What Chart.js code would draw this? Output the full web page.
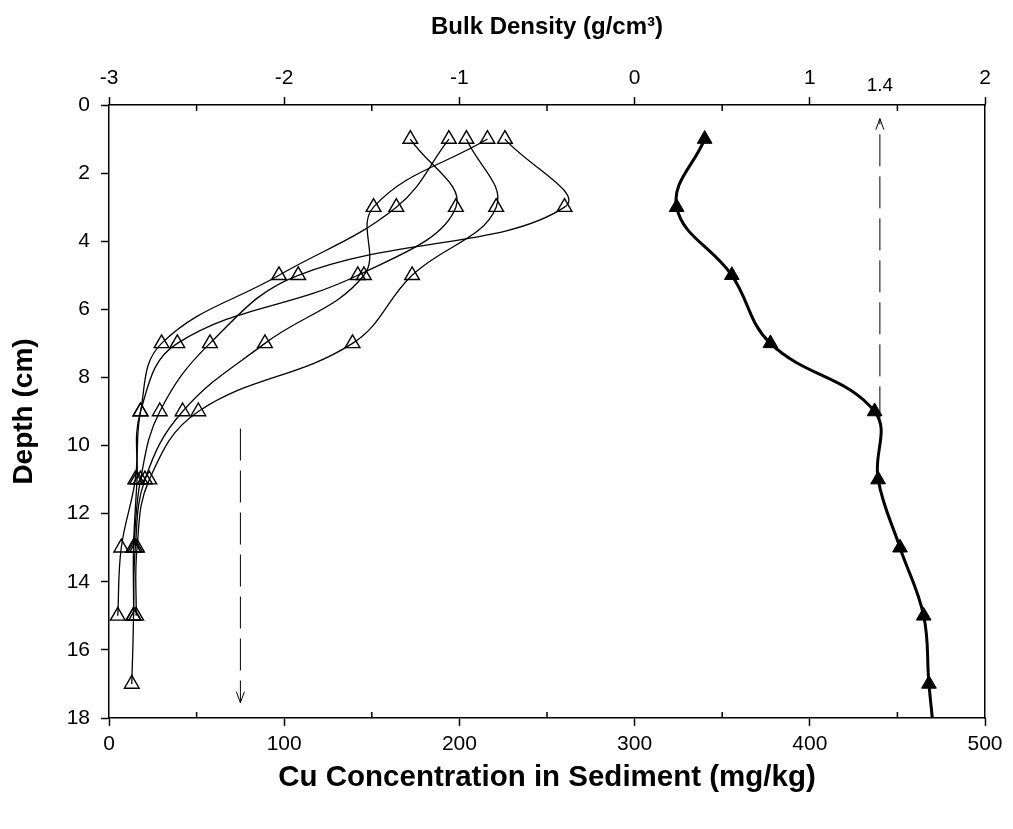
<!DOCTYPE html>
<html>
<head>
<meta charset="utf-8">
<script src="https://cdn.jsdelivr.net/npm/chart.js@4.4.0/dist/chart.umd.min.js"></script>
<style>
  html, body { margin: 0; padding: 0; background: #fff; }
  #wrap { width: 1013px; height: 829px; }
</style>
</head>
<body>
<div id="wrap"><canvas id="depthChart"></canvas></div>
<script>
// depth of each sample (cm)
const depths = [1, 3, 5, 7, 9, 11, 13, 15, 17];

// Cu concentration profiles (mg/kg), one per core
const cuCore1 = [172, 198, 142, 39, 18, 16, 14, 14, 13];
const cuCore2 = [194, 164, 97, 30, 18, 15, 7, 5];
const cuCore3 = [204, 221, 173, 139, 51, 23, 16, 15.5];
const cuCore4 = [216, 151, 145.5, 89, 42, 20.5, 15, 14];
const cuCore5 = [226, 260, 108, 57.6, 29, 18, 14];

// bulk density (g/cm3), read on the top axis
const bulkDepths = [1, 3, 5, 7, 9, 11, 13, 15, 17, 19];
const bulkDensity = [0.40, 0.24, 0.555, 0.775, 1.37, 1.39, 1.515, 1.65, 1.68, 1.72];

// dashed arrows: [value, fromDepth, toDepth]
const bulkArrow = [1.4, 9.2, 0.4];
const cuArrow = [75, 9.5, 17.55];

// axis ticks
const cuTicks = [0, 100, 200, 300, 400, 500];
const bulkTicks = [-3, -2, -1, 0, 1, 2];
const depthTicks = [0, 2, 4, 6, 8, 10, 12, 14, 16, 18];

const FONT = "'Liberation Sans', Arial, sans-serif";

function toPoints(values, ys) {
  return values.map((v, i) => ({ x: v, y: ys[i] }));
}

function cuSet(values) {
  return {
    data: toPoints(values, depths),
    xAxisID: "x",
    borderColor: "#000",
    borderWidth: 1.3,
    tension: 0.4,
    pointStyle: "triangle",
    pointRadius: 8.5,
    pointBorderWidth: 1.4,
    pointBorderColor: "#000",
    pointBackgroundColor: "rgba(255,255,255,0)",
  };
}

function arrowSet(arrow, axis) {
  return {
    data: [
      { x: arrow[0], y: arrow[1] },
      { x: arrow[0], y: arrow[2] },
    ],
    xAxisID: axis,
    borderColor: "#000",
    borderWidth: 1,
    borderDash: [32, 10],
    pointRadius: 0,
    tension: 0,
    arrow: true,
  };
}

// arrow heads, the 1.4 label and the short inward minor ticks
const extras = {
  id: "extras",
  afterDatasetsDraw(chart) {
    const ctx = chart.ctx;
    ctx.save();
    ctx.strokeStyle = "#000";
    ctx.lineWidth = 1;
    chart.data.datasets.forEach((ds, i) => {
      if (!ds.arrow) return;
      const pts = chart.getDatasetMeta(i).data;
      const a = pts[0], b = pts[1];
      const dir = b.y > a.y ? 1 : -1;
      ctx.beginPath();
      ctx.moveTo(b.x - 4, b.y - dir * 11);
      ctx.lineTo(b.x, b.y);
      ctx.lineTo(b.x + 4, b.y - dir * 11);
      ctx.stroke();
    });
    ctx.restore();
  },
  afterDraw(chart) {
    const ctx = chart.ctx;
    const area = chart.chartArea;
    const x = chart.scales.x, x2 = chart.scales.x2;
    ctx.save();
    ctx.strokeStyle = "#000";
    ctx.lineWidth = 1.5;
    ctx.beginPath();
    for (let v = 50; v < 500; v += 100) {
      const px = x.getPixelForValue(v);
      ctx.moveTo(px, area.bottom);
      ctx.lineTo(px, area.bottom - 6);
    }
    for (let v = -2.5; v < 2; v += 1) {
      const px = x2.getPixelForValue(v);
      ctx.moveTo(px, area.top);
      ctx.lineTo(px, area.top + 6);
    }
    ctx.stroke();
    ctx.fillStyle = "#000";
    ctx.font = "19px " + FONT;
    ctx.textAlign = "center";
    ctx.textBaseline = "middle";
    ctx.fillText(String(bulkArrow[0]), x2.getPixelForValue(bulkArrow[0]), 86);
    ctx.restore();
  },
};

const tickFont = { family: FONT, size: 21 };

new Chart(document.getElementById("depthChart"), {
  type: "scatter",
  data: {
    datasets: [
      cuSet(cuCore1),
      cuSet(cuCore2),
      cuSet(cuCore3),
      cuSet(cuCore4),
      cuSet(cuCore5),
      {
        data: toPoints(bulkDensity, bulkDepths),
        xAxisID: "x2",
        borderColor: "#000",
        borderWidth: 3,
        tension: 0.4,
        pointStyle: "triangle",
        pointRadius: 8.5,
        pointBorderWidth: 1,
        pointBorderColor: "#000",
        pointBackgroundColor: "#000",
      },
      arrowSet(bulkArrow, "x2"),
      arrowSet(cuArrow, "x"),
    ],
  },
  options: {
    responsive: true,
    maintainAspectRatio: false,
    animation: false,
    showLine: true,
    layout: { padding: 0 },
    plugins: {
      legend: { display: false },
      tooltip: { enabled: false },
    },
    scales: {
      x: {
        type: "linear",
        position: "bottom",
        min: 0,
        max: 500,
        afterBuildTicks: (s) => { s.ticks = cuTicks.map((v) => ({ value: v })); },
        afterFit: (s) => { s.height = 111; },
        ticks: { font: tickFont, color: "#000", padding: 6 },
        grid: { drawOnChartArea: false, tickLength: 8, tickColor: "#000", tickWidth: 1.5 },
        border: { color: "#000", width: 1.5 },
        title: {
          display: true,
          text: "Cu Concentration in Sediment (mg/kg)",
          color: "#000",
          font: { family: FONT, size: 29.5, weight: "bold" },
          padding: { top: 0, bottom: 33 },
        },
      },
      x2: {
        type: "linear",
        position: "top",
        min: -3,
        max: 2,
        afterBuildTicks: (s) => { s.ticks = bulkTicks.map((v) => ({ value: v })); },
        afterFit: (s) => { s.height = 105; },
        ticks: { font: tickFont, color: "#000", padding: 6 },
        grid: { drawOnChartArea: false, tickLength: 8, tickColor: "#000", tickWidth: 1.5 },
        border: { color: "#000", width: 1.5 },
        title: {
          display: true,
          text: "Bulk Density (g/cm³)",
          color: "#000",
          font: { family: FONT, size: 24, weight: "bold" },
          padding: { top: 13, bottom: 0 },
        },
      },
      y: {
        type: "linear",
        position: "left",
        reverse: true,
        min: 0,
        max: 18,
        afterBuildTicks: (s) => { s.ticks = depthTicks.map((v) => ({ value: v })); },
        afterFit: (s) => { s.width = 109; },
        ticks: { font: tickFont, color: "#000", padding: 11 },
        grid: { drawOnChartArea: false, tickLength: 8, tickColor: "#000", tickWidth: 1.5 },
        border: { color: "#000", width: 1.5 },
        title: {
          display: true,
          text: "Depth (cm)",
          color: "#000",
          font: { family: FONT, size: 28, weight: "bold" },
          padding: { top: 7, bottom: 0 },
        },
      },
      y2: {
        type: "linear",
        position: "right",
        reverse: true,
        min: 0,
        max: 18,
        afterFit: (s) => { s.width = 28; },
        ticks: { display: false },
        grid: { drawOnChartArea: false, drawTicks: false },
        border: { color: "#000", width: 1.5 },
      },
    },
  },
  plugins: [extras],
});
</script>
</body>
</html>
